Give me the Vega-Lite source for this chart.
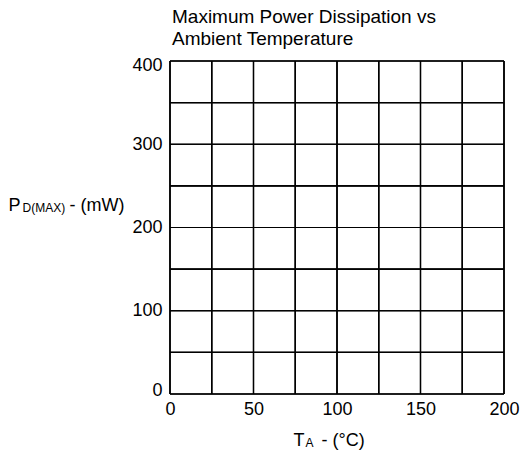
{
  "$schema": "https://vega.github.io/schema/vega-lite/v6.json",
  "autosize": {"type": "none"},
  "width": 334,
  "height": 333,
  "padding": {"left": 170, "top": 61, "right": 16, "bottom": 60},
  "background": "white",
  "title": {
    "text": ["Maximum Power Dissipation vs", "Ambient Temperature"],
    "anchor": "start",
    "frame": "group",
    "font": "Liberation Sans",
    "fontSize": 19,
    "fontWeight": "normal",
    "color": "black",
    "lineHeight": 22,
    "baseline": "alphabetic",
    "offset": -8,
    "dx": 2
  },
  "datasets": {
    "verticals": [{"t": 0}, {"t": 25}, {"t": 50}, {"t": 75}, {"t": 100}, {"t": 125}, {"t": 150}, {"t": 175}, {"t": 200}],
    "horizontals": [{"p": 0}, {"p": 50}, {"p": 100}, {"p": 150}, {"p": 200}, {"p": 250}, {"p": 300}, {"p": 350}, {"p": 400}]
  },
  "config": {
    "view": {"stroke": null},
    "axis": {
      "domain": false,
      "ticks": false,
      "grid": false,
      "labelFont": "Liberation Sans",
      "labelFontSize": 18,
      "labelColor": "black",
      "titleFont": "Liberation Sans",
      "titleFontSize": 18,
      "titleFontWeight": "normal",
      "titleColor": "black",
      "titleAngle": 0,
      "titleAlign": "left",
      "titleBaseline": "alphabetic"
    },
    "rule": {"color": "black", "strokeWidth": 1.2}
  },
  "resolve": {"axis": {"x": "independent", "y": "independent"}},
  "layer": [
    {
      "data": {"name": "verticals"},
      "mark": "rule",
      "encoding": {
        "x": {
          "field": "t", "type": "quantitative",
          "scale": {"domain": [0, 200], "nice": false},
          "axis": {
            "orient": "bottom",
            "values": [0, 50, 100, 150, 200],
            "labelFlush": false,
            "labelPadding": 6,
            "title": "T",
            "titleX": 123,
            "titleY": 51
          }
        }
      }
    },
    {
      "data": {"name": "horizontals"},
      "mark": "rule",
      "encoding": {
        "y": {
          "field": "p", "type": "quantitative",
          "scale": {"domain": [0, 400], "nice": false},
          "axis": {
            "orient": "left",
            "values": [0, 100, 200, 300, 400],
            "labelFlush": true,
            "labelFlushOffset": 5,
            "labelPadding": 8,
            "title": "P",
            "titleX": -162,
            "titleY": 149
          }
        }
      }
    },
    {
      "data": {"name": "verticals"},
      "mark": "rule",
      "encoding": {
        "x": {
          "field": "t", "type": "quantitative",
          "axis": {
            "orient": "bottom",
            "labels": false,
            "title": "A",
            "titleFontSize": 12,
            "titleX": 135,
            "titleY": 52
          }
        }
      }
    },
    {
      "data": {"name": "horizontals"},
      "mark": "rule",
      "encoding": {
        "y": {
          "field": "p", "type": "quantitative",
          "axis": {
            "orient": "left",
            "labels": false,
            "title": "D(MAX)",
            "titleFontSize": 12,
            "titleX": -148,
            "titleY": 150
          }
        }
      }
    },
    {
      "data": {"name": "verticals"},
      "mark": "rule",
      "encoding": {
        "x": {
          "field": "t", "type": "quantitative",
          "axis": {
            "orient": "bottom",
            "labels": false,
            "title": "- (°C)",
            "titleX": 151,
            "titleY": 51
          }
        }
      }
    },
    {
      "data": {"name": "horizontals"},
      "mark": "rule",
      "encoding": {
        "y": {
          "field": "p", "type": "quantitative",
          "axis": {
            "orient": "left",
            "labels": false,
            "title": "- (mW)",
            "titleX": -101,
            "titleY": 149
          }
        }
      }
    }
  ]
}
